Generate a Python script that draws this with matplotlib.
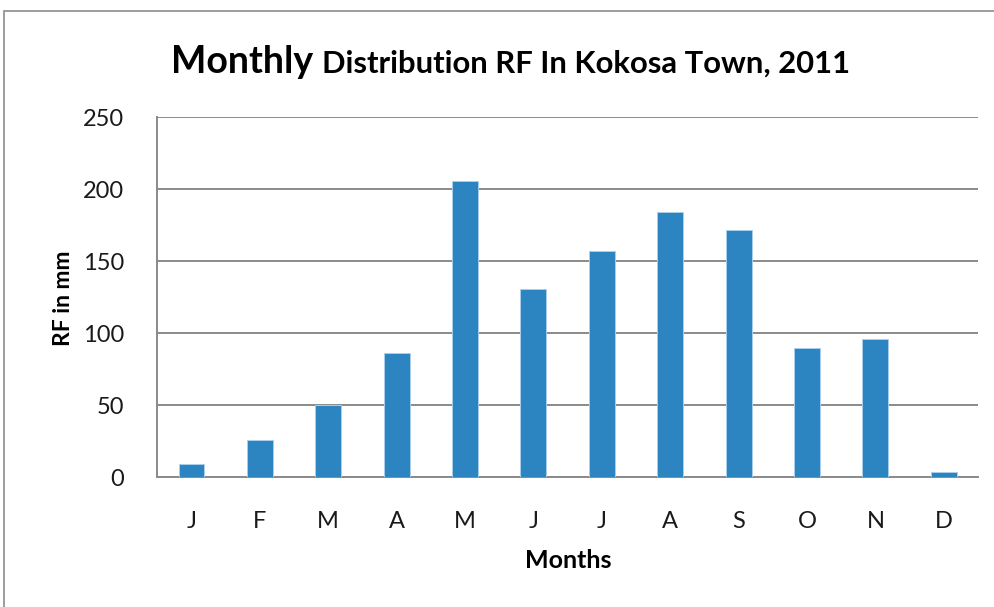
import matplotlib.pyplot as plt
from matplotlib.patches import Rectangle

plt.rcParams['font.family'] = ['Lato', 'DejaVu Sans']

months = ['J', 'F', 'M', 'A', 'M', 'J', 'J', 'A', 'S', 'O', 'N', 'D']
rainfall = [9, 26, 50, 86, 206, 131, 157, 184, 172, 90, 96, 4]
yticks = [0, 50, 100, 150, 200, 250]

W, H = 994, 607
fig = plt.figure(figsize=(W / 100, H / 100), dpi=100)
ax = fig.add_axes([157.3 / W, 1 - 477.3 / H, (978 - 157.3) / W, 360 / H])

# chart frame
fig.patches.append(Rectangle((4 / W, -0.1), 1.2, 1 - 11 / H + 0.1, transform=fig.transFigure,
                             fill=False, edgecolor='#8c8c8c', linewidth=1.2))

x = list(range(len(months)))
ax.bar(x, rainfall, width=0.38, color='#2C85C0', edgecolor='#a8d0ee', linewidth=0.7, zorder=3)

ax.set_xlim(-0.5, len(months) - 0.5)
ax.set_ylim(0, 250)
ax.set_yticks(yticks)
ax.set_xticks(x)
ax.set_xticklabels(months)
ax.yaxis.grid(True, color='#8a8a8a', linewidth=1.4, zorder=0)
ax.set_axisbelow(True)
for s in ['top', 'right']:
    ax.spines[s].set_visible(False)
for s in ['left', 'bottom']:
    ax.spines[s].set_color('#8a8a8a')
    ax.spines[s].set_linewidth(1.4)
ax.tick_params(axis='both', length=0, labelsize=17, colors='#1a1a1a')
ax.tick_params(axis='y', pad=24)
ax.tick_params(axis='x', pad=24)

fig.text(63 / W, 1 - 298 / H, 'RF in mm', rotation=90, ha='center', va='center',
         fontsize=16.5, fontweight='bold')
fig.text(568 / W, 1 - 560 / H, 'Months', ha='center', va='center',
         fontsize=18, fontweight='bold')

fig.text(171 / W, 1 - 73 / H, 'Monthly', ha='left', va='baseline',
         fontsize=27, fontweight='bold')
fig.text(322 / W, 1 - 73 / H, 'Distribution RF In Kokosa Town, 2011', ha='left',
         va='baseline', fontsize=22.3, fontweight='bold')

fig.savefig('out.png', dpi=100)
